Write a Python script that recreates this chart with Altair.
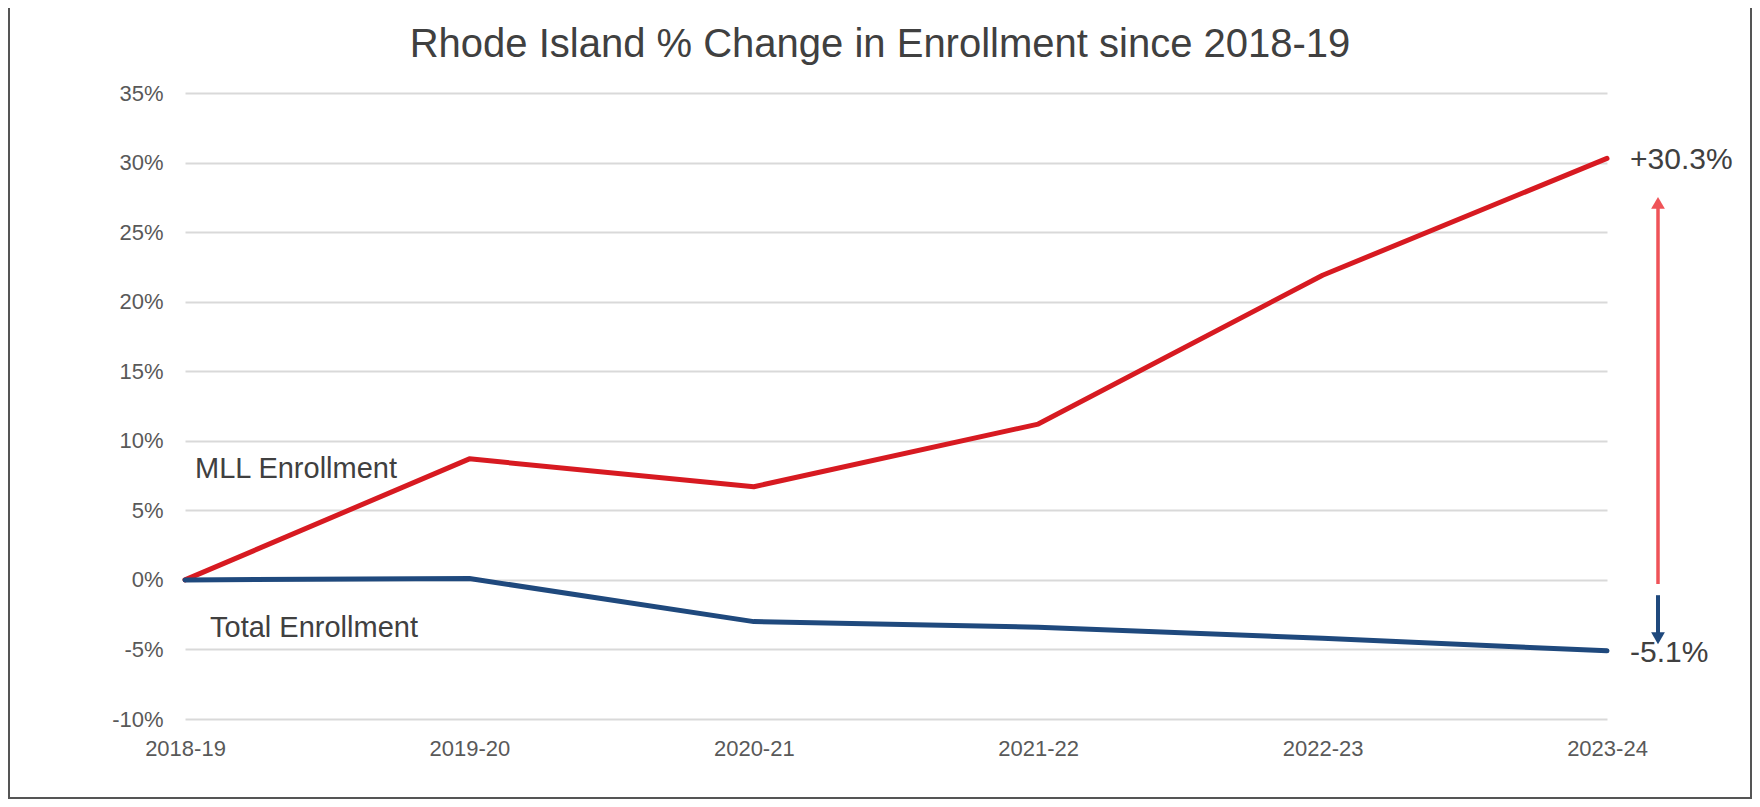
import altair as alt
import pandas as pd

# ---- data ----
years = ["2018-19", "2019-20", "2020-21", "2021-22", "2022-23", "2023-24"]
mll_change = [0.0, 8.7, 6.7, 11.2, 21.9, 30.3]
total_change = [0.0, 0.1, -3.0, -3.4, -4.2, -5.1]
y_ticks = [-10, -5, 0, 5, 10, 15, 20, 25, 30, 35]

series_names = ["MLL Enrollment", "Total Enrollment"]
series_colors = ["#D71A21", "#1F497D"]

end_labels = ["+30.3%", "-5.1%"]
end_values = [30.3, -5.1]

name_label_year = ["2018-19", "2018-19"]
name_label_value = [7.95, -3.47]

# arrows: shaft start, shaft end, head centre (in % units)
arrow_start = [-0.3, -1.1]
arrow_end = [26.8, -3.9]
arrow_head = [27.1, -4.2]
arrow_shapes = ["triangle-up", "triangle-down"]
arrow_colors = ["#EF5358", "#1F497D"]

title_text = "Rhode Island % Change in Enrollment since 2018-19"

FONT = "Liberation Sans"
TEXT = "#404040"
PLOT_W, PLOT_H = 1422, 626

rows = []
for name, vals in zip(series_names, [mll_change, total_change]):
    for yr, v in zip(years, vals):
        rows.append({"year": yr, "value": v, "series": name})
df = pd.DataFrame(rows)


def x_enc():
    return alt.X(
        "year:N",
        sort=years,
        scale=alt.Scale(type="point", padding=0, domain=years),
        axis=alt.Axis(
            title=None, labelAngle=0, labelFontSize=22, labelColor="#595959",
            labelFont=FONT, labelPadding=19, ticks=False, domain=False, grid=False,
        ),
    )


def y_enc(field="value"):
    return alt.Y(
        f"{field}:Q",
        scale=alt.Scale(domain=[-10, 35], nice=False, zero=False),
        axis=alt.Axis(
            title=None, values=y_ticks, labelExpr="datum.value + '%'",
            labelFontSize=22, labelColor="#595959", labelFont=FONT,
            labelPadding=22, ticks=False, domain=False, grid=True,
            gridColor="#D9D9D9", gridWidth=2,
        ),
    )


lines = alt.Chart(df).mark_line(strokeWidth=5, strokeCap="round", strokeJoin="round").encode(
    x=x_enc(),
    y=y_enc(),
    color=alt.Color("series:N", scale=alt.Scale(domain=series_names, range=series_colors), legend=None),
    order=alt.Order("series:N", sort="descending"),
)

end_df = pd.DataFrame({"year": [years[-1]] * 2, "value": end_values, "label": end_labels})
end_text = alt.Chart(end_df).mark_text(
    align="left", baseline="middle", dx=23, dy=2, fontSize=30, font=FONT, color=TEXT
).encode(x=x_enc(), y=y_enc(), text="label:N")

mll_df = pd.DataFrame({"year": [name_label_year[0]], "value": [name_label_value[0]], "label": [series_names[0]]})
mll_text = alt.Chart(mll_df).mark_text(
    align="center", baseline="middle", dx=111, fontSize=29, font=FONT, color=TEXT
).encode(x=x_enc(), y=y_enc(), text="label:N")

tot_df = pd.DataFrame({"year": [name_label_year[1]], "value": [name_label_value[1]], "label": [series_names[1]]})
tot_text = alt.Chart(tot_df).mark_text(
    align="center", baseline="middle", dx=129, fontSize=29, font=FONT, color=TEXT
).encode(x=x_enc(), y=y_enc(), text="label:N")

arrow_layers = []
for s, e, h, shp, col, w in zip(arrow_start, arrow_end, arrow_head, arrow_shapes, arrow_colors, [3.5, 4]):
    adf = pd.DataFrame({"value": [s], "value2": [e], "head": [h]})
    shaft = alt.Chart(adf).mark_rule(color=col, strokeWidth=w).encode(
        x=alt.value(PLOT_W + 51), y=y_enc("value"), y2="value2:Q"
    )
    head = alt.Chart(adf).mark_point(shape=shp, filled=True, size=190, color=col, opacity=1).encode(
        x=alt.value(PLOT_W + 51), y=y_enc("head")
    )
    arrow_layers += [shaft, head]

one = pd.DataFrame({"a": [0]})

title_mark = alt.Chart(pd.DataFrame({"t": [title_text]})).mark_text(
    align="center", baseline="alphabetic", fontSize=40, font=FONT, color=TEXT
).encode(x=alt.value(695), y=alt.value(-36), text="t:N")

border_col = "#555555"
border_left = alt.Chart(one).mark_rule(color=border_col, strokeWidth=2).encode(
    x=alt.value(-176), y=alt.value(-85), y2=alt.value(PLOT_H + 79)
)
border_right = alt.Chart(one).mark_rule(color=border_col, strokeWidth=2).encode(
    x=alt.value(PLOT_W + 144), y=alt.value(-85), y2=alt.value(PLOT_H + 79)
)
border_bottom = alt.Chart(one).mark_rule(color=border_col, strokeWidth=2).encode(
    x=alt.value(-177), x2=alt.value(PLOT_W + 145), y=alt.value(PLOT_H + 79)
)

chart = alt.layer(
    lines, end_text, mll_text, tot_text, *arrow_layers, title_mark,
    border_left, border_right, border_bottom
).properties(
    width=PLOT_W,
    height=PLOT_H,
    autosize=alt.AutoSizeParams(type="none"),
    padding={"left": 177, "top": 85, "right": 145, "bottom": 80},
).configure(background="white").configure_view(stroke=None)

chart.save("out.html", embed_options={"renderer": "svg", "actions": False})
